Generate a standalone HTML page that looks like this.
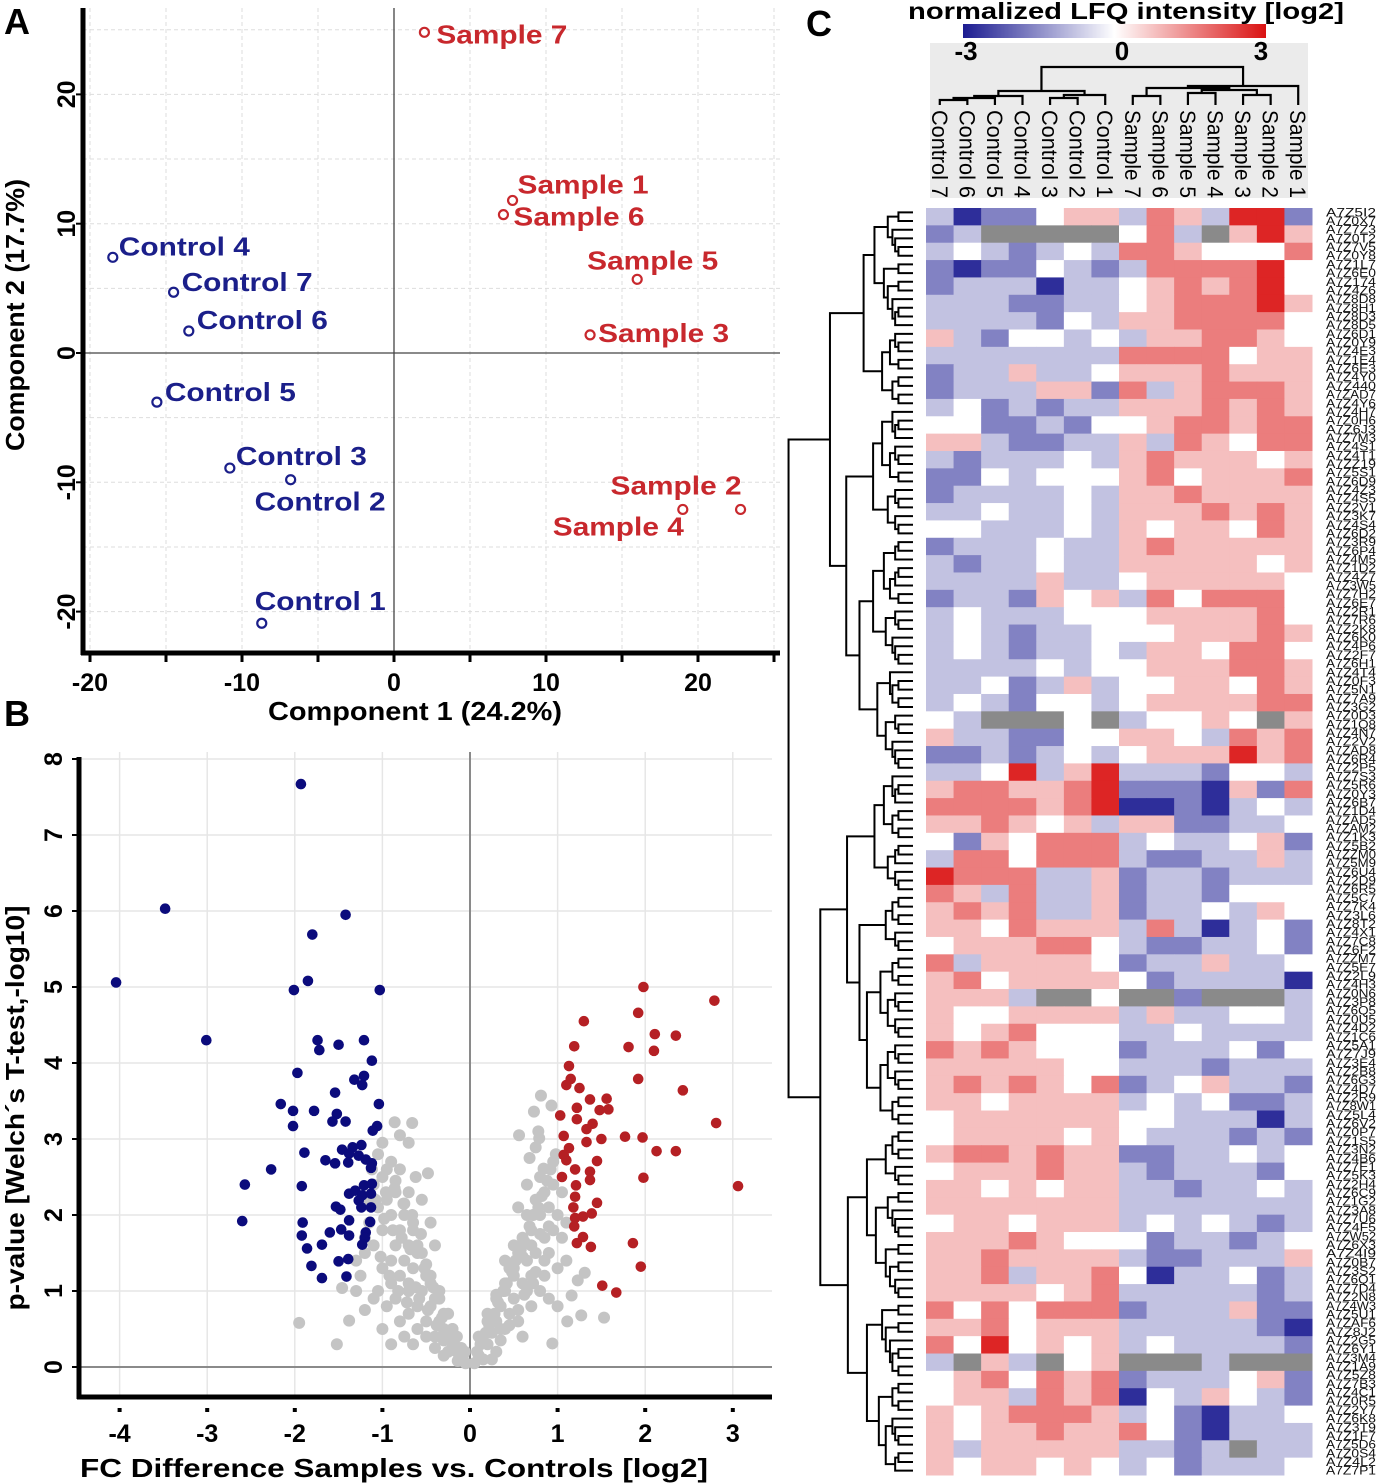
<!DOCTYPE html>
<html><head><meta charset="utf-8"><style>
html,body{margin:0;padding:0;background:#fff;}
svg{display:block;font-family:"Liberation Sans",Arial,sans-serif;}
</style></head><body>
<svg id="fig" width="1400" height="1484" viewBox="0 0 1400 1484" xmlns="http://www.w3.org/2000/svg">
<g id="pca"></g>
<g id="volcano"></g>
<g id="heat"></g>
<text x="4" y="34" font-size="36" font-weight="bold">A</text>
<text x="4" y="726" font-size="36" font-weight="bold">B</text>
<text x="806" y="36" font-size="36" font-weight="bold">C</text>
<text x="1126" y="19" font-size="23" font-weight="bold" text-anchor="middle" textLength="436" lengthAdjust="spacingAndGlyphs">normalized LFQ intensity [log2]</text>
</svg>
<script>
// ===== PCA data =====
const pcaNames = ["Sample 7","Sample 1","Sample 6","Sample 5","Sample 3","Sample 2","Sample 4","Control 4","Control 7","Control 6","Control 5","Control 3","Control 2","Control 1"];
const pcaX = [2,7.8,7.2,16,12.9,22.8,19,-18.5,-14.5,-13.5,-15.6,-10.8,-6.8,-8.7];
const pcaY = [24.8,11.8,10.7,5.7,1.4,-12.1,-12.1,7.4,4.7,1.7,-3.8,-8.9,-9.8,-20.9];
const pcaGroup = ["s","s","s","s","s","s","s","c","c","c","c","c","c","c"];
const pcaXTicks = [-20,-10,0,10,20];
const pcaYTicks = [-20,-10,0,10,20];
// ===== Volcano data =====
const blueFC = [-1.93,-3.48,-1.42,-1.80,-4.04,-1.85,-2.01,-1.03,-3.01,-1.74,-1.72,-1.50,-1.21,-1.12,-1.97,-1.21,-1.32,-1.23,-1.54,-2.16,-1.04,-2.02,-1.78,-1.52,-1.57,-1.42,-2.02,-1.06,-1.11,-1.89,-1.46,-1.34,-1.24,-1.38,-1.27,-2.27,-1.65,-1.54,-1.39,-1.19,-1.12,-1.13,-2.57,-1.92,-1.21,-1.12,-1.38,-1.31,-1.23,-1.13,-1.27,-1.53,-1.48,-1.24,-1.13,-2.60,-1.91,-1.38,-1.14,-1.60,-1.47,-1.38,-1.92,-1.19,-1.20,-1.23,-1.86,-1.69,-1.50,-1.39,-1.81,-1.69,-1.41];
const blueP = [7.67,6.03,5.95,5.69,5.06,5.08,4.96,4.96,4.30,4.30,4.17,4.24,4.30,4.03,3.87,3.83,3.78,3.71,3.61,3.46,3.46,3.37,3.37,3.33,3.23,3.23,3.17,3.17,3.11,2.82,2.86,2.89,2.92,2.81,2.78,2.60,2.72,2.68,2.69,2.73,2.68,2.62,2.40,2.38,2.39,2.41,2.28,2.32,2.26,2.28,2.19,2.11,2.07,2.10,2.10,1.92,1.90,1.93,1.91,1.77,1.81,1.73,1.73,1.77,1.70,1.61,1.56,1.61,1.39,1.42,1.33,1.17,1.19];
const redFC = [1.98,2.79,1.92,1.30,2.11,2.35,1.19,1.81,2.10,1.13,1.15,1.10,1.92,1.25,2.43,1.37,1.56,1.48,1.58,1.22,1.03,1.22,1.40,1.33,2.81,1.07,1.50,1.77,1.97,1.33,1.13,2.13,2.35,1.07,1.10,1.45,1.20,1.37,1.37,1.05,1.98,3.06,1.21,1.20,1.45,1.18,1.29,1.39,1.20,1.19,1.29,1.22,1.38,1.86,1.95,1.51,1.67];
const redP = [5.0,4.82,4.66,4.55,4.38,4.36,4.22,4.21,4.16,3.96,3.79,3.71,3.79,3.67,3.64,3.52,3.53,3.38,3.39,3.41,3.31,3.26,3.20,3.13,3.21,3.04,3.0,3.03,3.02,2.96,2.88,2.84,2.84,2.79,2.72,2.71,2.60,2.57,2.46,2.50,2.49,2.38,2.39,2.24,2.16,2.10,1.98,2.02,1.96,1.85,1.71,1.63,1.58,1.63,1.32,1.07,0.98];
const grayFC = [-0.05,-0.1,-0.15,-0.2,-0.12,-0.25,-0.3,-0.35,-0.3,-0.4,-0.45,-0.4,-0.5,-0.55,-0.5,-0.6,-0.65,-0.6,-0.7,-0.7,-0.75,-0.8,-0.8,-0.85,-0.9,-0.9,-0.95,-1.0,-1.0,-1.05,-1.1,-1.05,-0.95,-0.85,-0.75,-0.65,-0.55,-0.45,-0.35,-0.25,-0.2,-0.6,-0.7,-0.5,-0.85,-0.8,-1.0,-1.1,-1.15,-1.2,-1.2,-1.3,-1.25,-0.9,-1.05,-0.95,-0.65,-1.1,-0.86,-0.66,-0.48,-0.7,-0.8,-1.95,-1.52,-1.38,-1.46,-0.15,-0.3,-0.4,-0.75,-1.0,-0.9,-0.55,-0.62,-0.7,-0.8,-0.4,-0.45,-1.15,-1.3,-1.2,
-0.1,-0.2,-0.3,-0.35,-0.45,-0.5,-0.6,-0.65,-0.75,-0.85,-0.9,-1.0,-0.7,-0.58,-0.48,-0.38,-0.28,-0.18,-0.08,-0.52,-0.62,-0.72,-0.82,-0.92,-1.02,-0.68,-0.78,-0.88,-0.98,-1.08,-0.42,-0.32,-0.22,-0.56,-0.66,-0.76,-0.86,-0.96,-1.12,-0.06,-0.14,
0.05,0.1,0.15,0.2,0.25,0.3,0.3,0.35,0.4,0.4,0.45,0.5,0.5,0.55,0.55,0.6,0.6,0.65,0.65,0.7,0.7,0.75,0.75,0.8,0.8,0.85,0.85,0.9,0.9,0.95,0.95,1.0,1.0,1.05,1.1,0.81,0.93,0.73,0.56,0.79,0.75,0.84,1.53,1.27,1.11,0.94,1.31,1.23,1.16,0.2,0.3,0.45,0.5,0.4,0.35,0.6,0.7,0.8,0.85,0.9,1.0,0.15,0.25,0.65,0.55,0.95,1.05,1.1,
0.08,0.12,0.18,0.22,0.28,0.32,0.38,0.42,0.48,0.52,0.58,0.62,0.68,0.72,0.78,0.82,0.88,0.92,0.98,0.1,0.2,0.3,0.4,0.5,0.6,0.7,0.8,0.9,0.45,0.55,0.65,0.75,0.85,0.35,0.25,0.62,0.72,0.68,0.78];
const grayP = [0.05,0.1,0.2,0.3,0.15,0.2,0.5,0.6,0.35,0.4,0.8,0.9,0.6,1.0,1.2,0.8,1.3,1.5,1.1,1.6,1.4,1.8,1.2,1.6,2.0,1.4,2.2,1.8,2.5,2.1,2.4,2.8,2.6,2.3,2.0,1.8,1.5,1.2,0.9,0.7,0.5,0.5,0.7,0.4,0.9,0.6,1.3,1.6,1.9,1.7,1.5,1.4,1.2,1.1,1.0,0.8,0.3,0.9,3.22,3.21,2.55,2.95,3.05,0.58,0.30,0.61,1.04,0.4,0.15,0.25,0.4,0.5,0.3,2.2,2.5,2.3,2.6,1.6,1.9,2.2,1.0,0.75,
0.25,0.5,0.7,1.0,1.1,1.35,1.6,1.9,2.15,2.45,2.7,2.95,1.0,0.9,0.75,0.55,0.45,0.3,0.15,1.3,1.05,0.85,1.0,1.2,1.45,1.55,1.7,1.8,1.95,2.2,1.05,0.65,0.4,1.75,2.0,2.15,2.35,2.3,2.6,0.2,0.08,
0.05,0.15,0.1,0.3,0.45,0.2,0.6,0.8,0.5,1.0,0.7,1.2,0.9,1.5,0.6,1.1,1.7,1.4,2.0,1.2,1.8,2.2,1.5,2.0,2.5,1.7,2.3,2.1,1.5,2.4,1.8,2.0,1.3,1.7,1.9,3.57,3.44,3.36,3.05,3.01,2.89,2.61,0.65,0.68,0.60,0.31,1.24,1.14,0.94,0.6,0.9,1.3,1.6,1.4,0.35,0.4,0.8,1.0,1.2,0.9,0.8,0.35,0.1,2.4,2.1,2.7,2.3,1.4,
0.2,0.3,0.45,0.55,0.7,0.85,1.0,1.1,1.25,1.4,1.55,1.65,1.85,2.0,2.1,2.25,2.45,2.6,2.8,0.4,0.7,0.95,1.1,1.3,1.45,1.6,1.75,1.85,0.55,0.75,1.0,1.25,1.4,0.5,0.65,0.95,1.1,2.75,3.1];
const volXTicks = [-4,-3,-2,-1,0,1,2,3];
const volYTicks = [0,1,2,3,4,5,6,7,8];
// ===== Heatmap data =====
const colNames = ["Control 7","Control 6","Control 5","Control 4","Control 3","Control 2","Control 1","Sample 7","Sample 6","Sample 5","Sample 4","Sample 3","Sample 2","Sample 1"];
const heatRows = ["20113442542661","12xxxxx352x464","23212325543335","10113212555563","12220223454563","22211223455564","22221324455553","42133232445543","22222225555344","12242234445444","12224415245554","23121224445454","33112133455455","44211224254355","21222324544434","11323334534445","12222324454444","22322324445454","33222324344354","12223224544444","21223224444434","22224223444443","12214342535553","23222333444453","23212233344454","23212232443553","22223233444554","22312423344354","23213323444455","32xxx3x23343x4","42211334432545","11212323444645","22362462221332","45544561110415","55554560010232","44543424411223","31435552322341","25535552112242","65552241221222","54252241221333","45452241223243","44354442520231","34445532112231","52444431224223","45344443122220","4442xx3xx1xxx2","43344442422332","43453332232222","54543331222313","44444332221222","45454351234221","44344442323112","34444443322202","34444343222121","45545441122323","34445442122213","44343442212232","44444442222222","34434442323212","44454333122123","44544442112224","44524453022312","44443452222212","53535551222411","44534442222210","53634342322221","2x42x34xxx2xxx","34535451222341","34425450324321","43455542310223","43445445310222","42444442212x22","43443432312223"];
const rowIds = "5I2 0X7 7Z3 0T2 7V5 0Y8 1L7 6E0 174 4Z6 8D8 8H1 8D3 8D5 6D1 0Y9 4E3 1E4 6E3 4Y0 440 AD7 4Y6 4H7 0H6 6J3 7M3 4S1 4T1 Z19 5S1 6D9 4Z3 4S5 2V1 3K7 4S4 6D2 3R9 6P4 4M5 1D2 4Z7 3W5 7H2 6E7 2R1 7R6 2K8 6K0 4P6 2F7 6H1 4T4 0F3 5N1 7A9 3G2 0D3 1Q8 4N7 2V2 AD8 6R4 2P5 7S3 5R6 0Y3 6B7 1D4 AD5 AM2 1K3 5B2 ZM0 5M9 6U4 2D9 6R5 5C7 7K4 3L6 8T2 4X1 7C8 6F2 ZM7 5E7 2L9 4H3 0N6 3P8 6Q5 0U5 4D2 1C6 5A1 7J9 3E4 2B8 6G3 4D7 2R9 8W1 5L4 6V2 0P7 1S5 3N2 4B6 7E1 5K3 2H4 6C9 1G2 3A8 7U6 4F5 W52 6X3 4I9 0B7 3S2 6Q1 7D4 2N8 4W3 5U1 AF6 8J2 2G5 6Y1 3M4 1A9 5Z8 7B3 4C1 0R5 2Y7 6K8 3T9 1F7 5D6 0S4 4L2 7P1 2E3".split(" ");
const colTree = [[0,1,100],[14,2,98],[4,5,98],[16,6,95],[15,3,96],[18,17,91],[7,8,96],[9,10,93],[11,12,95],[21,22,90],[20,23,88],[24,13,86],[19,25,67]];

const NS="http://www.w3.org/2000/svg";
function mk(parent,tag,attrs,text){const e=document.createElementNS(NS,tag);for(const k in attrs)e.setAttribute(k,attrs[k]);if(text!==undefined)e.textContent=text;parent.appendChild(e);return e;}

// ===== PCA =====
(function(){
  const g=document.getElementById('pca');
  const sx=v=>394+v*15.2, sy=v=>353-v*12.93;
  for(let v=-20;v<=25;v+=5){const l=mk(g,'line',{x1:sx(v),x2:sx(v),y1:8,y2:653,stroke:'#ddd','stroke-dasharray':'4,3','stroke-width':1});}
  for(let v=-25;v<=25;v+=5){const y=sy(v);if(y<8||y>653)continue;const l=mk(g,'line',{x1:83,x2:780,y1:y,y2:y,stroke:'#ddd','stroke-dasharray':'4,3','stroke-width':1});}
  let z=mk(g,'line',{x1:sx(0),x2:sx(0),y1:8,y2:653,stroke:'#444','stroke-width':1.3});
  z=mk(g,'line',{x1:83,x2:780,y1:sy(0),y2:sy(0),stroke:'#444','stroke-width':1.3});
  let a=mk(g,'line',{x1:83,x2:83,y1:8,y2:655,stroke:'#000','stroke-width':5});
  a=mk(g,'line',{x1:81,x2:780,y1:653,y2:653,stroke:'#000','stroke-width':5});
  for(let v=-20;v<=25;v+=5){const t=mk(g,'line',{x1:sx(v),x2:sx(v),y1:653,y2:662,stroke:'#000','stroke-width':3});}
  pcaXTicks.forEach(v=>{const t=mk(g,'text',{x:sx(v),y:691,'font-size':25,'font-weight':'bold','text-anchor':'middle'},String(v));});
  pcaYTicks.forEach(v=>{const y=sy(v);const t=mk(g,'text',{x:0,y:0,'font-size':25,'font-weight':'bold','text-anchor':'middle',transform:`translate(75,${y}) rotate(-90)`},String(v));
    const tk=mk(g,'line',{x1:76,x2:83,y1:y,y2:y,stroke:'#000','stroke-width':2});});
  let t=mk(g,'text',{x:415,y:720,'font-size':26,'font-weight':'bold','text-anchor':'middle',textLength:294,lengthAdjust:'spacingAndGlyphs'},'Component 1 (24.2%)');
  t=mk(g,'text',{x:0,y:0,'font-size':26,'font-weight':'bold','text-anchor':'middle',textLength:272,lengthAdjust:'spacingAndGlyphs',transform:'translate(24,315) rotate(-90)'},'Component 2 (17.7%)');
  const labDX=[12,5,10,-50,8,-130,-130,6,8,8,8,6,-36,-7];
  const labDY=[2,-16,2,-19,-2,-24,17,-11,-10,-11,-10,-12,22,-22];
  pcaNames.forEach((n,i)=>{
    const col=pcaGroup[i]==='s'?'#c8282d':'#1b1f8a';
    const cx=sx(pcaX[i]),cy=sy(pcaY[i]);
    const c=mk(g,'circle',{cx:cx,cy:cy,r:4.5,fill:'none',stroke:col,'stroke-width':2.2});
    
    
    const l=mk(g,'text',{x:cx+labDX[i],y:cy+labDY[i]+9,'font-size':26,'font-weight':'bold',fill:col,textLength:131,lengthAdjust:'spacingAndGlyphs'},n);
    
    
  });
})();

// ===== Volcano =====
(function(){
  const g=document.getElementById('volcano');
  const sx=v=>470+v*87.6, sy=v=>1367-v*76;
  for(let v=-4;v<=3;v++){const l=mk(g,'line',{x1:sx(v),x2:sx(v),y1:752,y2:1397,stroke:'#e6e6e6','stroke-width':1.5});}
  for(let v=1;v<=8;v++){const l=mk(g,'line',{x1:79,x2:772,y1:sy(v),y2:sy(v),stroke:'#e6e6e6','stroke-width':1.5});}
  let z=mk(g,'line',{x1:sx(0),x2:sx(0),y1:752,y2:1397,stroke:'#8a8a8a','stroke-width':2});
  z=mk(g,'line',{x1:79,x2:772,y1:sy(0),y2:sy(0),stroke:'#8a8a8a','stroke-width':2});
  grayFC.forEach((v,i)=>{const c=mk(g,'circle',{cx:sx(v),cy:sy(grayP[i]),r:6,fill:'#c4c4c4'});});
  blueFC.forEach((v,i)=>{const c=mk(g,'circle',{cx:sx(v),cy:sy(blueP[i]),r:5.3,fill:'#0b0b7c'});});
  redFC.forEach((v,i)=>{const c=mk(g,'circle',{cx:sx(v),cy:sy(redP[i]),r:5.3,fill:'#b52024'});});
  let a=mk(g,'line',{x1:79,x2:79,y1:757,y2:1399,stroke:'#000','stroke-width':5});
  a=mk(g,'line',{x1:77,x2:772,y1:1397,y2:1397,stroke:'#000','stroke-width':5});
  volXTicks.forEach(v=>{
    const d=mk(g,'rect',{x:sx(v)-2,y:1408,width:4,height:4,fill:'#000'});
    const t=mk(g,'text',{x:sx(v),y:1442,'font-size':25,'font-weight':'bold','text-anchor':'middle'},String(v));});
  volYTicks.forEach(v=>{const y=sy(v);
    const tk=mk(g,'line',{x1:72,x2:79,y1:y,y2:y,stroke:'#000','stroke-width':2});
    const t=mk(g,'text',{x:0,y:0,'font-size':25,'font-weight':'bold','text-anchor':'middle',transform:`translate(62,${y}) rotate(-90)`},String(v));});
  let t=mk(g,'text',{x:394,y:1477,'font-size':26,'font-weight':'bold','text-anchor':'middle',textLength:628,lengthAdjust:'spacingAndGlyphs'},'FC Difference Samples vs. Controls [log2]');
  t=mk(g,'text',{x:0,y:0,'font-size':26,'font-weight':'bold','text-anchor':'middle',textLength:405,lengthAdjust:'spacingAndGlyphs',transform:'translate(24,1108) rotate(-90)'},'p-value [Welch´s T-test,-log10]');
})();

// ===== Heatmap =====
(function(){
  const g=document.getElementById('heat');
  const X0=926,X1=1312,Y0=208,Y1=1475;
  const nC=colNames.length, nR=heatRows.length;
  const cw=(X1-X0)/nC, rh=(Y1-Y0)/nR;
  const blue=[28,28,145], red=[218,18,18];
  const tLev=[0,0.27,0.55,0.92];
  function colr(ch){
    if(ch==='x')return '#8a8a8a';
    const v=(+ch)-3; const t=tLev[Math.abs(v)]; const c=v<0?blue:red;
    return `rgb(${Math.round(255+(c[0]-255)*t)},${Math.round(255+(c[1]-255)*t)},${Math.round(255+(c[2]-255)*t)})`;
  }
  const defs=mk(g,'defs',{});const lg=mk(defs,'linearGradient',{id:'cb',x1:0,x2:1,y1:0,y2:0});
  mk(lg,'stop',{offset:'0','stop-color':'rgb(28,28,145)'});mk(lg,'stop',{offset:'0.5','stop-color':'#fff'});mk(lg,'stop',{offset:'1','stop-color':'rgb(218,18,18)'});
  const bg=mk(g,'rect',{x:930,y:43,width:378,height:155,fill:'#ebebeb'});
  const cb=mk(g,'rect',{x:963,y:24,width:303,height:14,fill:'url(#cb)'});
  [["-3",966],["0",1122],["3",1261]].forEach(([s,x])=>{const t=mk(g,'text',{x:x,y:60,'font-size':26,'font-weight':'bold','text-anchor':'middle'},s);});
  heatRows.forEach((row,r)=>{for(let c=0;c<nC;c++){
    const e=mk(g,'rect',{x:X0+c*cw,y:Y0+r*rh,width:cw+0.5,height:rh+0.5,fill:colr(row[c])});
    
    
  }});
  colNames.forEach((n,i)=>{const cx=X0+(i+0.5)*cw;
    const t=mk(g,'text',{x:0,y:0,'font-size':22,transform:`translate(${cx-8},110) rotate(90)`,textLength:88,lengthAdjust:'spacingAndGlyphs'},n);
    
    });
  const nodes=[];for(let i=0;i<nC;i++)nodes.push({x:X0+(i+0.5)*cw,y:105});
  colTree.forEach(([a,b,h])=>{const A=nodes[a],B=nodes[b];
    const p=mk(g,'path',{d:`M${A.x},${A.y}V${h}H${B.x}V${B.y}`,fill:'none',stroke:'#000','stroke-width':2.2});
    
    
    nodes.push({x:(A.x+B.x)/2,y:h});});
  const nL=146, lh=(Y1-Y0)/nL;
  for(let i=0;i<nL;i++){const t=mk(g,'text',{x:1326,y:Y0+(i+0.5)*lh+4,'font-size':12,fill:'#111',textLength:50,lengthAdjust:'spacingAndGlyphs'},'A7Z'+rowIds[i%rowIds.length]);
    
    }
  function build(lo,hi,depth){
    if(hi-lo===1)return {x:913,y:Y0+(lo+0.5)*lh};
    let sp;
    if(depth===0)sp=lo+65;
    else {const f=[0.5,0.35,0.6,0.45,0.25,0.55][(lo+depth)%6];sp=lo+Math.max(1,Math.min(hi-lo-1,Math.round((hi-lo)*f)));}
    const A=build(lo,sp,depth+1),B=build(sp,hi,depth+1);
    const x=913-10.3*Math.sqrt(hi-lo);
    const p=mk(g,'path',{d:`M${A.x},${A.y}H${x}V${B.y}H${B.x}`,fill:'none',stroke:'#000','stroke-width':2});
    
    
    return {x:x,y:(A.y+B.y)/2};
  }
  build(0,nL,0);
})();
</script>
</body></html>
